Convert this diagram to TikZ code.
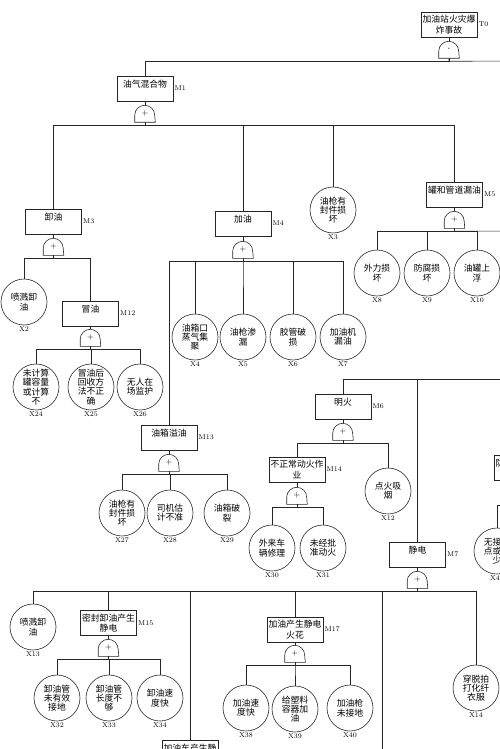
\documentclass[tikz,border=0pt]{standalone}
\usepackage{fontspec}
\usepackage{tikz}
\newfontfamily\cjk{Noto Sans CJK SC}
\tikzset{
  evt/.style={draw,rectangle,minimum width=56pt,minimum height=25pt,inner sep=0pt,align=center,font=\cjk\fontsize{8.8}{10.5}\selectfont},
  onel/.style={text depth=9pt},
  bas/.style={draw,circle,minimum size=46pt,inner sep=0pt,align=center,font=\cjk\fontsize{8.8}{9.3}\selectfont},
  gate/.style={inner sep=0pt,minimum width=20pt,minimum height=17pt,font=\fontsize{8}{8}\selectfont},
  tag/.style={font=\fontsize{7}{7}\selectfont,inner sep=1pt},
}
\begin{document}
\begin{tikzpicture}[x=1pt,y=-1pt,line width=0.6pt,draw=black!85]
\useasboundingbox (0,0) rectangle (500,749);
\clip (0,0) rectangle (500,749);
\node[evt,label={[tag]east:T0}] (t0) at (449,24.5) {加油站火灾爆\\炸事故};
\node[gate] (g0) at (449,49.5) {\fontsize{11}{11}\selectfont$\cdot$};
\coordinate (m2) at (520,61);
\node[evt,onel,label={[tag]east:M1}] (m1) at (145,88.5) {油气混合物};
\node[gate] (g1) at (145,113.5) {+};
\node[evt,onel,label={[tag]east:M3}] (m3) at (53.5,221.5) {卸油};
\node[gate] (g3) at (53.5,246.5) {+};
\node[evt,onel,label={[tag]east:M4}] (m4) at (243,223.5) {加油};
\node[gate] (g4) at (243,249.5) {+};
\node[bas,label={[tag]south:X3}] (x3) at (333,210) {油枪有\\封件损\\坏};
\node[evt,onel,label={[tag]east:M5}] (m5) at (454.5,194.5) {罐和管道漏油};
\node[gate] (g5) at (454.5,219.5) {+};
\coordinate (x11) at (520,231);
\node[bas,label={[tag]south:X2}] (x2) at (24,302) {喷溅卸\\油};
\node[evt,onel,label={[tag]east:M12}] (m12) at (90.5,313.5) {冒油};
\node[gate] (g12) at (90.5,337.5) {+};
\node[bas,label={[tag]south:X24}] (x24) at (36,387) {未计算\\罐容量\\或计算\\不};
\node[bas,label={[tag]south:X25}] (x25) at (91,387) {冒油后\\回收方\\法不正\\确};
\node[bas,label={[tag]south:X26}] (x26) at (140,387) {无人在\\场监护};
\node[bas,label={[tag]south:X4}] (x4) at (195,337) {油箱口\\蒸气集\\聚};
\node[bas,label={[tag]south:X5}] (x5) at (243,337) {油枪渗\\漏};
\node[bas,label={[tag]south:X6}] (x6) at (293,337) {胶管破\\损};
\node[bas,label={[tag]south:X7}] (x7) at (343,337) {加油机\\漏油};
\node[evt,onel,label={[tag]east:M13}] (m13) at (169,437.5) {油箱溢油};
\node[gate] (g13) at (169,462.5) {+};
\node[bas,label={[tag]south:X27}] (x27) at (122,513) {油枪有\\封件损\\坏};
\node[bas,label={[tag]south:X28}] (x28) at (170,513) {司机估\\计不准};
\node[bas,label={[tag]south:X29}] (x29) at (227,513) {油箱破\\裂};
\node[bas,label={[tag]south:X8}] (x8) at (377,273) {外力损\\坏};
\node[bas,label={[tag]south:X9}] (x9) at (427,273) {防腐损\\坏};
\node[bas,label={[tag]south:X10}] (x10) at (477,273) {油罐上\\浮};
\coordinate (m2b) at (520,379);
\node[evt,onel,label={[tag]east:M6}] (m6) at (343,406.5) {明火};
\node[gate] (g6) at (343,431.5) {+};
\node[evt,label={[tag]east:M14}] (m14) at (297,469.5) {不正常动火作\\业};
\node[gate] (g14) at (297,495.5) {+};
\node[bas,label={[tag]south:X30}] (x30) at (272,548) {外来车\\辆修理};
\node[bas,label={[tag]south:X31}] (x31) at (323,548) {未经批\\准动火};
\node[bas,label={[tag]south:X12}] (x12) at (388,491) {点火吸\\烟};
\node[evt,onel,label={[tag]east:M7}] (m7) at (417.5,554.5) {静电};
\node[gate] (g7) at (417.5,579.5) {+};
\node[evt,onel] (mr) at (522,467.5) {防\phantom{口口口口口}};
\coordinate (rb) at (520,505);
\node[bas,label={[tag]south:X4\phantom{1}}] (x41) at (497,551) {无接\phantom{口}\\点或\phantom{口}\\少};
\node[bas,label={[tag]south:X13}] (x13) at (33,627) {喷溅卸\\油};
\node[evt,label={[tag]east:M15}] (m15) at (108.5,623) {密封卸油产生\\静电};
\node[gate] (g15) at (108.5,647.5) {+};
\node[bas,label={[tag]south:X32}] (x32) at (57,698) {卸油管\\未有效\\接地};
\node[bas,label={[tag]south:X33}] (x33) at (109,698) {卸油管\\长度不\\够};
\node[bas,label={[tag]south:X34}] (x34) at (160,698) {卸油速\\度快};
\node[evt,onel,label={[tag]east:M1\phantom{6}}] (m16) at (190,752.5) {加油车产生静};
\node[evt,label={[tag]east:M17}] (m17) at (295,629.5) {加油产生静电\\火花};
\node[gate] (g17) at (295,653.5) {+};
\node[bas,label={[tag]south:X38}] (x38) at (246,708) {加油速\\度快};
\node[bas,label={[tag]south:X39}] (x39) at (295,709) {给塑料\\容器加\\油};
\node[bas,label={[tag]south:X40}] (x40) at (350,708) {加油枪\\未接地};
\node[bas,label={[tag]south:X14}] (x14) at (476,688) {穿脱拍\\打化纤\\衣服};
\coordinate (m18) at (382,770);
\foreach \g in {g0,g1,g3,g4,g5,g12,g13,g6,g14,g7,g15,g17}
  \draw (\g.south west) -- ++(0pt,7pt) arc[start angle=180,end angle=0,radius=10pt] -- (\g.south east) -- cycle;
\foreach \a/\b in {t0/g0,m1/g1,m3/g3,m4/g4,m5/g5,m12/g12,m13/g13,m6/g6,m14/g14,m7/g7,m15/g15,m17/g17}
  \draw (\a) -- (\b);
\draw (g0.south) -- ++(0,3) -| (m1);
\draw (g0.south) -- ++(0,3) -- (m2);
\foreach \c in {m3,m4,x3,m5}
  \draw (g1.south) -- ++(0,3) -| (\c);
\foreach \c in {x2,m12}
  \draw (g3.south) -- ++(0,3) -| (\c);
\foreach \c in {x24,x25,x26}
  \draw (g12.south) -- ++(0,3) -| (\c);
\foreach \c in {m13,x4,x5,x6,x7}
  \draw (g4.south) -- ++(0,3) -| (\c);
\foreach \c in {x27,x28,x29}
  \draw (g13.south) -- ++(0,3) -| (\c);
\foreach \c in {x8,x9,x10}
  \draw (g5.south) -- ++(0,3) -| (\c);
\draw (g5.south) -- ++(0,3) -- (x11);
\draw (m2b) -| (m6);
\draw (m2b) -| (m7);
\foreach \c in {m14,x12}
  \draw (g6.south) -- ++(0,3) -| (\c);
\foreach \c in {x30,x31}
  \draw (g14.south) -- ++(0,3) -| (\c);
\draw (rb) -| (x41);
\foreach \c in {x13,m15,m16,m17,m18,x14}
  \draw (g7.south) -- ++(0,3) -| (\c);
\foreach \c in {x32,x33,x34}
  \draw (g15.south) -- ++(0,3) -| (\c);
\foreach \c in {x38,x39,x40}
  \draw (g17.south) -- ++(0,3) -| (\c);
\end{tikzpicture}
\end{document}
